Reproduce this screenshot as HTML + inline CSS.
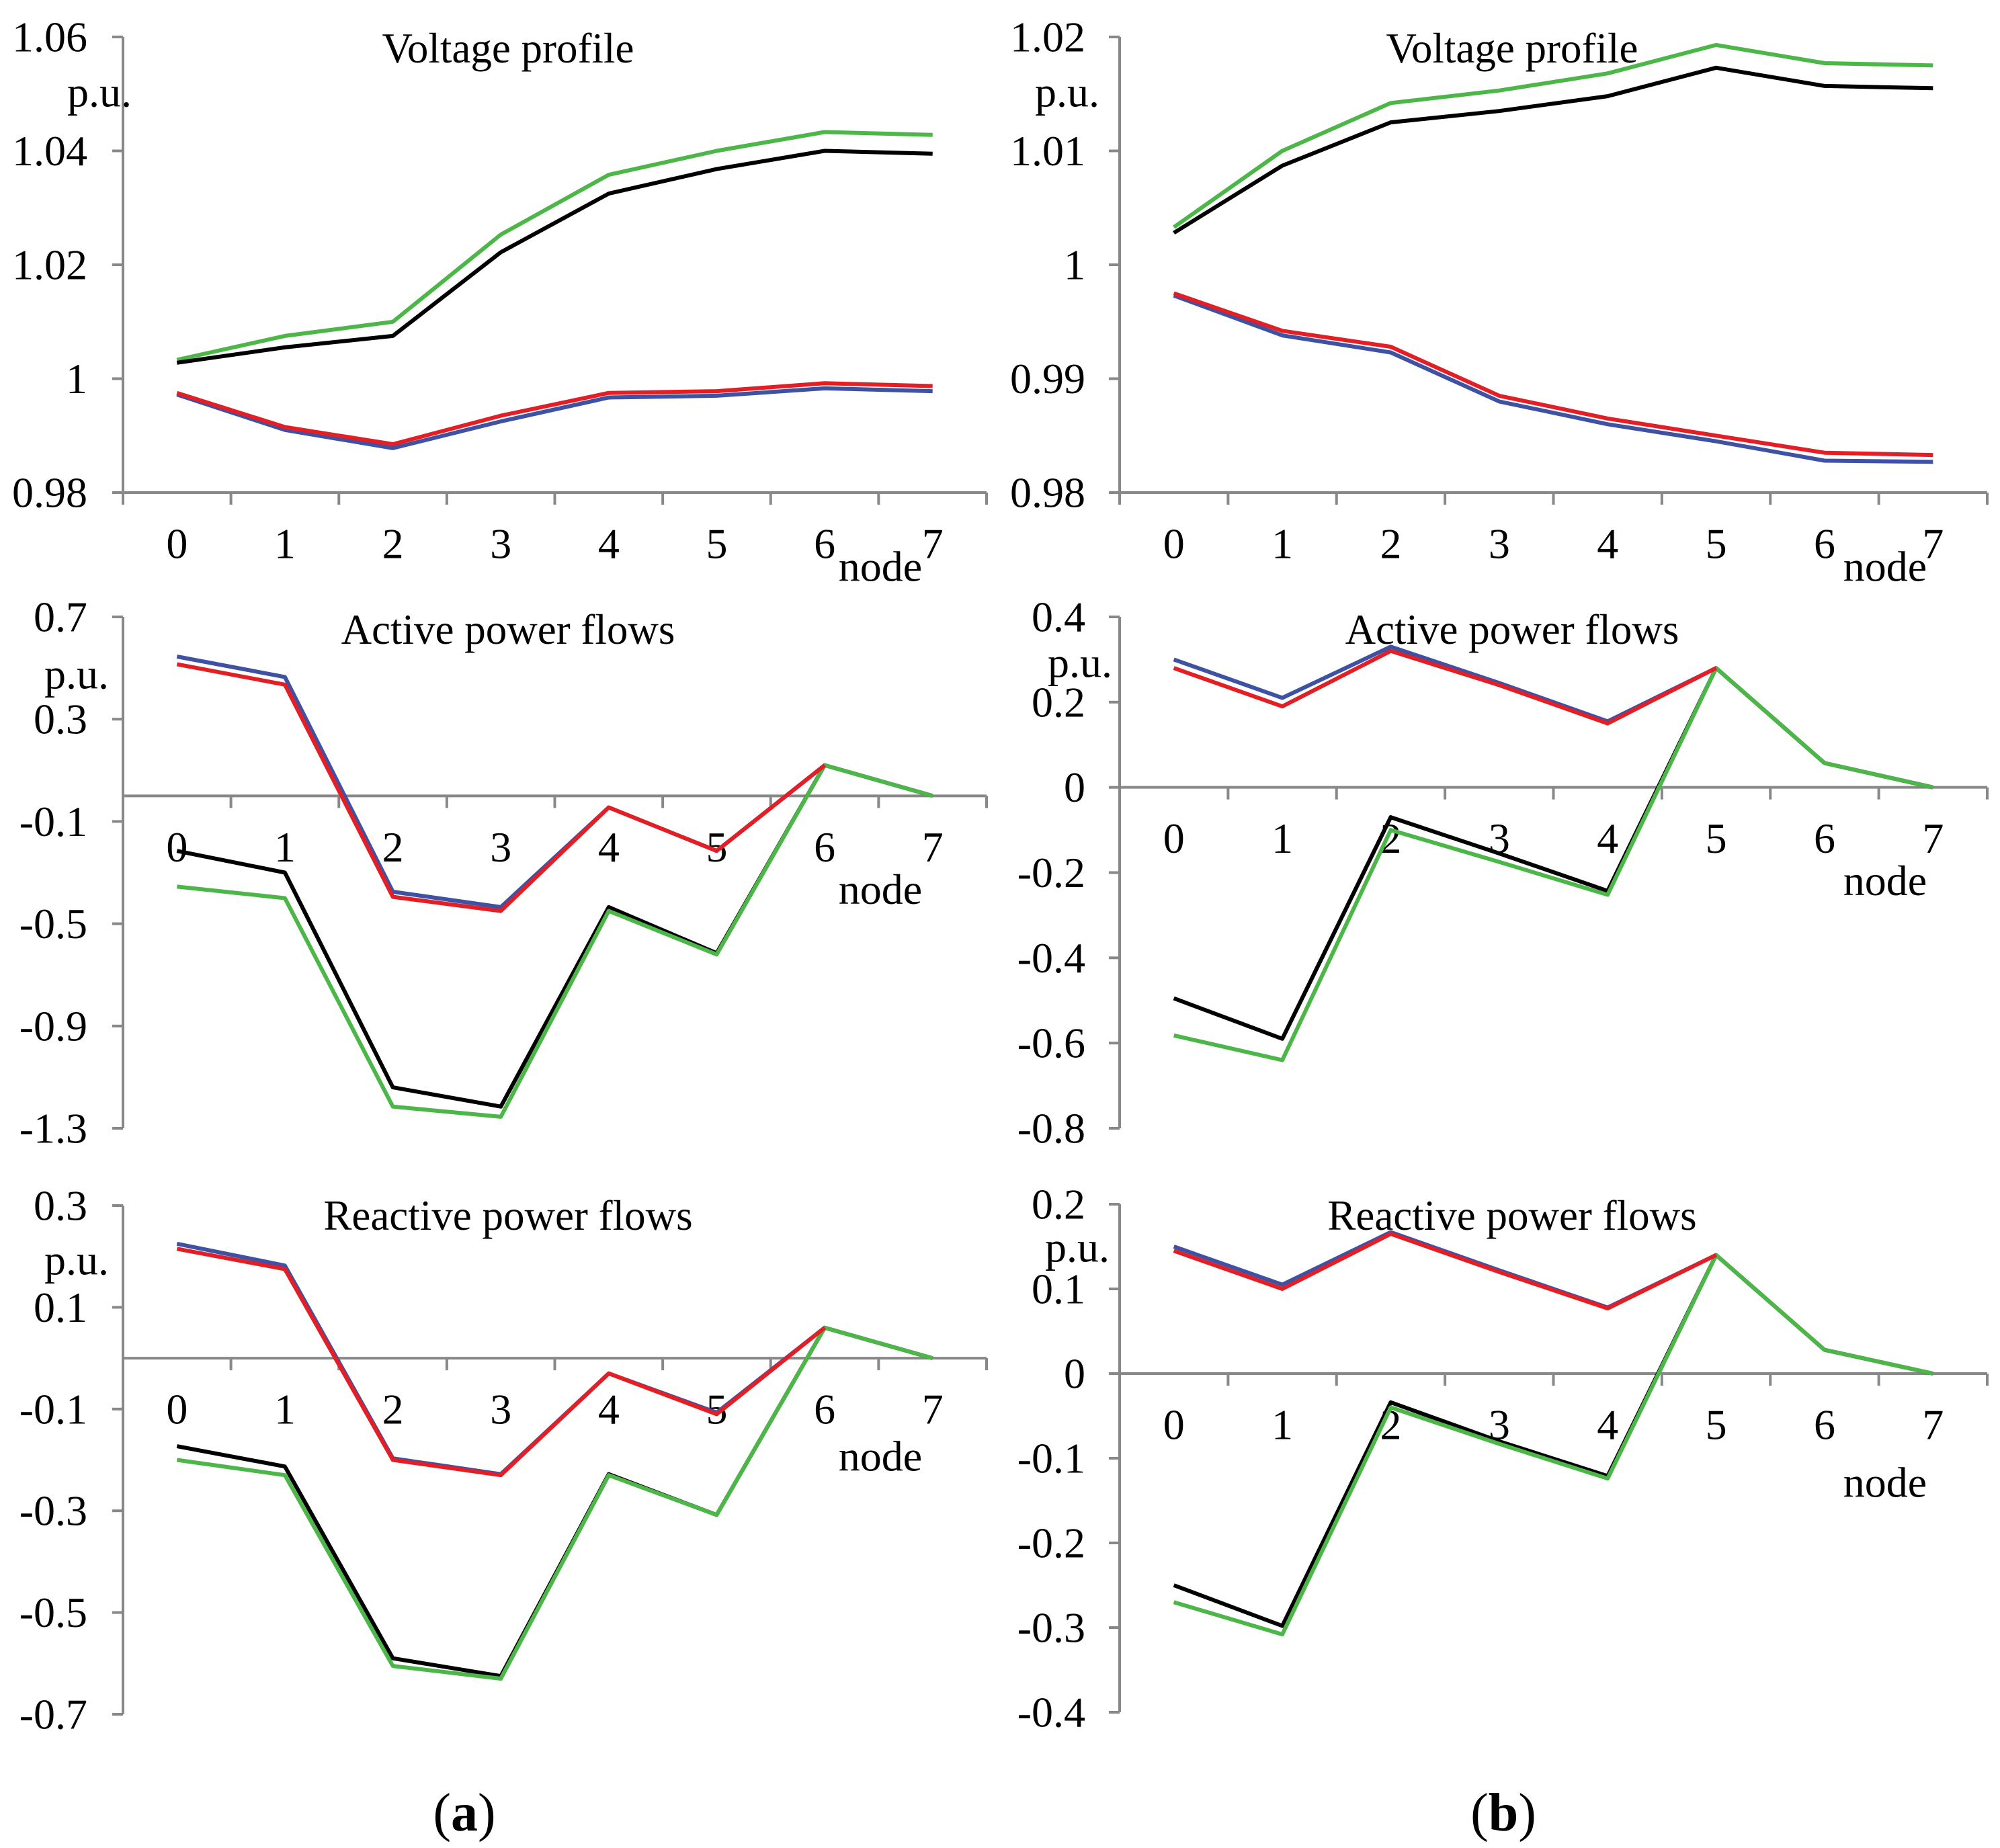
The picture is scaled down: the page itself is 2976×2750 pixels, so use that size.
<!DOCTYPE html>
<html><head><meta charset="utf-8">
<style>
html,body{margin:0;padding:0;background:#fff;}
svg{display:block;font-family:"Liberation Serif",serif;}
</style></head>
<body>
<svg id="chart" width="2976" height="2750" viewBox="0 0 2976 2750" xmlns="http://www.w3.org/2000/svg"></svg>
<script>
const categories = [0,1,2,3,4,5,6,7];
// Panel (a) voltage
const vA_green = [1.0033,1.0075,1.0100,1.0253,1.0358,1.0400,1.0433,1.0428];
const vA_black = [1.0028,1.0055,1.0075,1.0222,1.0325,1.0368,1.0400,1.0395];
const vA_red   = [0.9975,0.9915,0.9885,0.9935,0.9975,0.9978,0.9992,0.9987];
const vA_blue  = [0.9972,0.9910,0.9878,0.9925,0.9967,0.9970,0.9983,0.9978];
// Panel (b) voltage
const vB_green = [1.0033,1.0100,1.0142,1.0153,1.0168,1.0193,1.0177,1.0175];
const vB_black = [1.0028,1.0087,1.0125,1.0135,1.0148,1.0173,1.0157,1.0155];
const vB_red   = [0.9975,0.9942,0.9928,0.9885,0.9865,0.9850,0.9835,0.9833];
const vB_blue  = [0.9973,0.9938,0.9923,0.9880,0.9860,0.9845,0.9828,0.9827];
// Panel (a) active power
const pA_blue  = [0.545,0.465,-0.375,-0.435,-0.045,-0.215,0.12];
const pA_red   = [0.515,0.435,-0.395,-0.45,-0.045,-0.215,0.12];
const pA_black = [-0.215,-0.30,-1.14,-1.215,-0.435,-0.615,0.12,0];
const pA_green = [-0.355,-0.40,-1.215,-1.255,-0.45,-0.62,0.12,0];
// Panel (b) active power
const pB_blue  = [0.30,0.21,0.33,0.245,0.155,0.28];
const pB_red   = [0.28,0.19,0.32,0.24,0.15,0.28];
const pB_black = [-0.495,-0.59,-0.07,-0.155,-0.243,0.28,0.057,0];
const pB_green = [-0.582,-0.64,-0.10,-0.175,-0.252,0.28,0.057,0];
// Panel (a) reactive power
const qA_blue  = [0.225,0.182,-0.197,-0.228,-0.03,-0.107,0.06];
const qA_red   = [0.215,0.175,-0.20,-0.23,-0.03,-0.11,0.06];
const qA_black = [-0.173,-0.213,-0.59,-0.625,-0.228,-0.308,0.06,0];
const qA_green = [-0.20,-0.23,-0.605,-0.63,-0.23,-0.308,0.06,0];
// Panel (b) reactive power
const qB_blue  = [0.15,0.105,0.167,0.122,0.078,0.14];
const qB_red   = [0.145,0.10,0.165,0.12,0.077,0.14];
const qB_black = [-0.25,-0.298,-0.034,-0.08,-0.121,0.14,0.028,0];
const qB_green = [-0.27,-0.308,-0.04,-0.083,-0.124,0.14,0.028,0];
// tick labels
const ticksV_A = ["1.06","1.04","1.02","1","0.98"];
const ticksV_B = ["1.02","1.01","1","0.99","0.98"];
const ticksP_A = ["0.7","0.3","-0.1","-0.5","-0.9","-1.3"];
const ticksP_B = ["0.4","0.2","0","-0.2","-0.4","-0.6","-0.8"];
const ticksQ_A = ["0.3","0.1","-0.1","-0.3","-0.5","-0.7"];
const ticksQ_B = ["0.2","0.1","0","-0.1","-0.2","-0.3","-0.4"];

const NS="http://www.w3.org/2000/svg";
const svg=document.getElementById('chart');
const COL={green:'#4cb748',black:'#000000',red:'#e31e24',blue:'#3f51a3'};

function mk(tag,attrs,parent){
  const e=document.createElementNS(NS,tag);
  for(const k in attrs) e.setAttribute(k,attrs[k]);
  (parent||svg).appendChild(e);
  return e;
}
function txt(s,x,y,size,anchor,parent,name){
  const t=mk('text',{x:x,y:y,'font-size':size,'text-anchor':anchor,'dominant-baseline':'central',fill:'#000'},parent);
  
  
  t.textContent=s;
  return t;
}

function panel(cfg){
  const g=mk('g',{});
  
  
  const x0=cfg.x0,x1=cfg.x1,top=cfg.top,bot=cfg.bot;
  const ymax=parseFloat(cfg.ticks[0]), ymin=parseFloat(cfg.ticks[cfg.ticks.length-1]);
  const yS=v=>top+(ymax-v)/(ymax-ymin)*(bot-top);
  const cw=(x1-x0)/categories.length;
  const xS=i=>x0+cw*(i+0.5);
  const axisY=yS(cfg.axisVal);
  const ya=mk('line',{x1:x0,y1:top,x2:x0,y2:bot,stroke:'#888',"stroke-width":4},g);
  
  
  cfg.ticks.forEach(t=>{
    const y=yS(parseFloat(t));
    mk('line',{x1:x0-16,y1:y,x2:x0,y2:y,stroke:'#888',"stroke-width":4},g);
    txt(t,cfg.labelRight,y,64,'end',g,'y-tick-label');
  });
  const xa=mk('line',{x1:x0,y1:axisY,x2:x1,y2:axisY,stroke:'#888',"stroke-width":4},g);
  
  
  for(let i=0;i<=categories.length;i++){
    const x=x0+cw*i;
    mk('line',{x1:x,y1:axisY,x2:x,y2:axisY+18,stroke:'#888',"stroke-width":4},g);
  }
  categories.forEach((c,i)=>txt(String(c),xS(i),axisY+76,64,'middle',g,'x-tick-label'));
  txt('node',cfg.nodeX,axisY+cfg.nodeDy,64,'middle',g,'x-axis-title');
  txt('p.u.',cfg.puX,cfg.puY,64,'middle',g,'y-axis-unit');
  txt(cfg.title,cfg.titleX,cfg.titleY,63,'middle',g,'panel-title');
  cfg.series.forEach(s=>{
    const pts=s.data.map((v,i)=>xS(i).toFixed(1)+','+yS(v).toFixed(1)).join(' ');
    const p=mk('polyline',{points:pts,fill:'none',stroke:COL[s.color],"stroke-width":6,"stroke-linejoin":'round'},g);
    
    
  });
}

const L={x0:183,x1:1468,labelRight:130,nodeX:1310,titleX:756};
const R={x0:1666,x1:2957,labelRight:1615,nodeX:2805,titleX:2250};

panel(Object.assign({},L,{name:'voltage-profile-a',top:55,bot:733,ticks:ticksV_A,axisVal:0.98,nodeDy:110,puX:148,puY:137,title:'Voltage profile',titleY:72,
  series:[{data:vA_green,color:'green'},{data:vA_black,color:'black'},{data:vA_blue,color:'blue'},{data:vA_red,color:'red'}]}));
panel(Object.assign({},R,{name:'voltage-profile-b',top:55,bot:733,ticks:ticksV_B,axisVal:0.98,nodeDy:110,puX:1588,puY:137,title:'Voltage profile',titleY:72,
  series:[{data:vB_green,color:'green'},{data:vB_black,color:'black'},{data:vB_blue,color:'blue'},{data:vB_red,color:'red'}]}));
panel(Object.assign({},L,{name:'active-power-a',top:918,bot:1679,ticks:ticksP_A,axisVal:0,nodeDy:139,puX:114,puY:1003,title:'Active power flows',titleY:937,
  series:[{data:pA_black,color:'black'},{data:pA_green,color:'green'},{data:pA_blue,color:'blue'},{data:pA_red,color:'red'}]}));
panel(Object.assign({},R,{name:'active-power-b',top:918,bot:1679,ticks:ticksP_B,axisVal:0,nodeDy:139,puX:1607,puY:986,title:'Active power flows',titleY:937,
  series:[{data:pB_black,color:'black'},{data:pB_green,color:'green'},{data:pB_blue,color:'blue'},{data:pB_red,color:'red'}]}));
panel(Object.assign({},L,{name:'reactive-power-a',top:1794,bot:2551,ticks:ticksQ_A,axisVal:0,nodeDy:146,puX:114,puY:1875,title:'Reactive power flows',titleY:1809,
  series:[{data:qA_black,color:'black'},{data:qA_green,color:'green'},{data:qA_blue,color:'blue'},{data:qA_red,color:'red'}]}));
panel(Object.assign({},R,{name:'reactive-power-b',top:1792,bot:2548,ticks:ticksQ_B,axisVal:0,nodeDy:162,puX:1603,puY:1856,title:'Reactive power flows',titleY:1809,
  series:[{data:qB_black,color:'black'},{data:qB_green,color:'green'},{data:qB_blue,color:'blue'},{data:qB_red,color:'red'}]}));

const ca=mk('text',{x:691,y:2698,'font-size':80,'text-anchor':'middle','dominant-baseline':'central'});


ca.innerHTML='(<tspan font-weight="bold">a</tspan>)';
const cb=mk('text',{x:2237,y:2698,'font-size':80,'text-anchor':'middle','dominant-baseline':'central'});


cb.innerHTML='(<tspan font-weight="bold">b</tspan>)';
</script>
</body></html>
